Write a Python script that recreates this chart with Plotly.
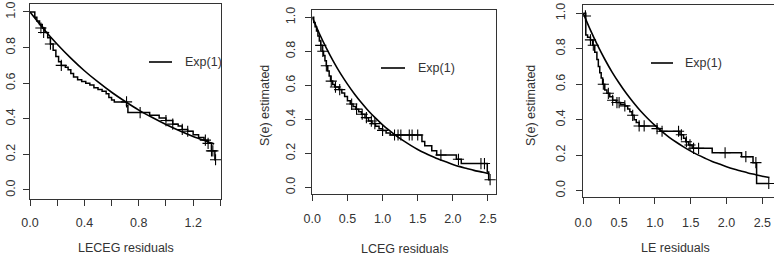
import plotly.graph_objects as go

W, H = 774, 257

# ---------------- data ----------------
# Panel 1: LECEG residuals
km1_t = [0, 0.035, 0.05, 0.07, 0.09, 0.11, 0.13, 0.15, 0.17, 0.19, 0.21, 0.23, 0.26, 0.28, 0.30, 0.32,
         0.35, 0.38, 0.41, 0.44, 0.47, 0.50, 0.53, 0.56, 0.58, 0.60, 0.62, 0.71, 0.72, 0.88, 0.95, 1.00,
         1.05, 1.09, 1.12, 1.16, 1.20, 1.24, 1.28, 1.31, 1.335, 1.36, 1.365]
km1_s = [1.0, 0.97, 0.95, 0.93, 0.91, 0.885, 0.855, 0.82, 0.785, 0.75, 0.72, 0.70, 0.69, 0.675, 0.655, 0.635,
         0.62, 0.61, 0.60, 0.59, 0.575, 0.565, 0.555, 0.54, 0.52, 0.505, 0.495, 0.475, 0.435, 0.42, 0.405, 0.39,
         0.37, 0.36, 0.34, 0.33, 0.31, 0.295, 0.28, 0.262, 0.22, 0.17, 0.17]
cen1_t = [0.08, 0.10, 0.15, 0.23, 0.71, 0.81, 1.00, 1.05, 1.12, 1.16, 1.29, 1.31, 1.335, 1.345, 1.365]
cen1_s = [0.91, 0.885, 0.82, 0.70, 0.495, 0.435, 0.39, 0.37, 0.34, 0.33, 0.28, 0.262, 0.22, 0.22, 0.17]
exp1_x = [0, 0.1, 0.2, 0.3, 0.4, 0.5, 0.6, 0.7, 0.8, 0.9, 1.0, 1.1, 1.2, 1.3, 1.355]
exp1_y = [1.000, 0.905, 0.819, 0.741, 0.670, 0.607, 0.549, 0.497, 0.449, 0.407, 0.368, 0.333, 0.301, 0.273, 0.258]

# Panel 2: LCEG residuals
km2_t = [0, 0.02, 0.04, 0.06, 0.08, 0.10, 0.12, 0.14, 0.16, 0.18, 0.20, 0.22, 0.24, 0.26, 0.29, 0.32,
         0.38, 0.42, 0.46, 0.50, 0.54, 0.58, 0.62, 0.66, 0.70, 0.75, 0.80, 0.85, 0.90, 0.95, 1.00,
         1.05, 1.11, 1.56, 1.60, 1.70, 1.77, 2.05, 2.12, 2.49, 2.51, 2.53]
km2_s = [1.0, 0.97, 0.945, 0.92, 0.89, 0.86, 0.835, 0.80, 0.775, 0.745, 0.715, 0.685, 0.655, 0.625, 0.605, 0.59,
         0.575, 0.555, 0.535, 0.51, 0.49, 0.475, 0.46, 0.445, 0.43, 0.41, 0.39, 0.375, 0.36, 0.345, 0.335,
         0.32, 0.308, 0.27, 0.245, 0.215, 0.19, 0.165, 0.14, 0.09, 0.045, 0.045]
cen2_t = [0.12, 0.15, 0.20, 0.27, 0.33, 0.39, 0.56, 0.63, 0.71, 0.77, 0.84, 0.89, 1.00, 1.17, 1.22, 1.26,
          1.38, 1.42, 1.50, 1.83, 2.08, 2.40, 2.45, 2.53]
cen2_s = [0.835, 0.80, 0.715, 0.625, 0.59, 0.575, 0.49, 0.46, 0.43, 0.41, 0.39, 0.375, 0.335, 0.308, 0.308, 0.308,
          0.308, 0.308, 0.308, 0.19, 0.165, 0.14, 0.14, 0.045]
exp2_x = [0, 0.1, 0.2, 0.3, 0.4, 0.5, 0.6, 0.7, 0.8, 0.9, 1.0, 1.1, 1.2, 1.3, 1.4, 1.5, 1.6, 1.7, 1.8,
          1.9, 2.0, 2.1, 2.2, 2.3, 2.4, 2.5, 2.52]
exp2_y = [1.000, 0.905, 0.819, 0.741, 0.670, 0.607, 0.549, 0.497, 0.449, 0.407, 0.368, 0.333, 0.301, 0.273,
          0.247, 0.223, 0.202, 0.183, 0.165, 0.150, 0.135, 0.122, 0.111, 0.100, 0.091, 0.082, 0.080]

# Panel 3: LE residuals
km3_t = [0, 0.035, 0.06, 0.10, 0.13, 0.16, 0.19, 0.21, 0.23, 0.25, 0.27, 0.30, 0.33, 0.37, 0.41, 0.46,
         0.52, 0.58, 0.62, 0.65, 0.68, 0.71, 0.74, 0.78, 1.03, 1.07, 1.35, 1.40, 1.43, 1.47, 1.52, 1.80,
         2.21, 2.37, 2.42, 2.59]
km3_s = [1.0, 0.878, 0.865, 0.85, 0.82, 0.78, 0.74, 0.70, 0.665, 0.635, 0.60, 0.568, 0.549, 0.53, 0.51, 0.497,
         0.488, 0.478, 0.46, 0.445, 0.425, 0.40, 0.385, 0.365, 0.35, 0.335, 0.315, 0.295, 0.276, 0.258, 0.239, 0.214,
         0.192, 0.158, 0.041, 0.041]
cen3_t = [0.03, 0.10, 0.14, 0.28, 0.35, 0.41, 0.47, 0.50, 0.58, 0.69, 0.78, 0.85, 1.03, 1.10, 1.33, 1.37,
          1.44, 1.49, 1.54, 1.61, 1.98, 2.27, 2.41, 2.59]
cen3_s = [0.985, 0.85, 0.82, 0.60, 0.549, 0.51, 0.497, 0.497, 0.478, 0.425, 0.365, 0.365, 0.35, 0.335, 0.335, 0.315,
          0.276, 0.258, 0.239, 0.239, 0.214, 0.192, 0.158, 0.041]
exp3_x = [0, 0.1, 0.2, 0.3, 0.4, 0.5, 0.6, 0.7, 0.8, 0.9, 1.0, 1.1, 1.2, 1.3, 1.4, 1.5, 1.6, 1.7, 1.8,
          1.9, 2.0, 2.1, 2.2, 2.3, 2.4, 2.5, 2.6]
exp3_y = [1.000, 0.905, 0.819, 0.741, 0.670, 0.607, 0.549, 0.497, 0.449, 0.407, 0.368, 0.333, 0.301, 0.273,
          0.247, 0.223, 0.202, 0.183, 0.165, 0.150, 0.135, 0.122, 0.111, 0.100, 0.091, 0.082, 0.074]

x_titles = ["LECEG residuals", "LCEG residuals", "LE residuals"]
y_title = "S(e) estimated"
legend_label = "Exp(1)"
x_tickvals = [[0, 0.2, 0.4, 0.6, 0.8, 1.0, 1.2, 1.4],
              [0, 0.5, 1.0, 1.5, 2.0, 2.5],
              [0, 0.5, 1.0, 1.5, 2.0, 2.5]]
x_ticktext = [["0.0", "", "0.4", "", "0.8", "", "1.2", ""],
              ["0.0", "0.5", "1.0", "1.5", "2.0", "2.5"],
              ["0.0", "0.5", "1.0", "1.5", "2.0", "2.5"]]
y_tickvals = [0, 0.2, 0.4, 0.6, 0.8, 1.0]
y_ticktext = ["0.0", "0.2", "0.4", "0.6", "0.8", "1.0"]

# ---------------- layout geometry (pixels) ----------------
FONT = "Liberation Sans, Arial, Helvetica, sans-serif"
TXT = "#333333"
AX = "#333333"
FS = 12.5

panels = [
    dict(box=(29.5, 221.0, 4.0, 199.0), xr=[-0.004, 1.405], yr=[-0.0506, 1.0449], mirror_y=True,
         xstand=6, ystand=3, legend=(149, 172, 62, 183), ytitle=None, xtitle=(126, 248)),
    dict(box=(312.3, 496.0, 10.0, 194.0), xr=[0, 2.614], yr=[-0.039, 1.043], mirror_y=True,
         xstand=7, ystand=5, legend=(381, 405, 68, 416), ytitle=(265, 106), xtitle=(405, 249)),
    dict(box=(583.0, 774.0, 5.0, 197.0), xr=[-0.004, 2.663], yr=[-0.0355, 1.0468], mirror_y=False,
         xstand=8, ystand=6, legend=(651, 673, 63, 683), ytitle=(531, 106), xtitle=(675, 248)),
]

series = [
    (km1_t, km1_s, cen1_t, cen1_s, exp1_x, exp1_y),
    (km2_t, km2_s, cen2_t, cen2_s, exp2_x, exp2_y),
    (km3_t, km3_s, cen3_t, cen3_s, exp3_x, exp3_y),
]

fig = go.Figure()
layout = dict(template="none", width=W, height=H, margin=dict(l=0, r=0, t=0, b=0, pad=0),
              paper_bgcolor="white", plot_bgcolor="white", showlegend=False,
              font=dict(family=FONT, size=FS, color=TXT))
shapes, annotations = [], []

for i, (p, (kt, ks, ct, cs, ex, ey)) in enumerate(zip(panels, series)):
    n = "" if i == 0 else str(i + 1)
    xa, ya = "x" + n, "y" + n
    fig.add_trace(go.Scatter(x=kt, y=ks, xaxis=xa, yaxis=ya, mode="lines",
                             line=dict(shape="hv", color="black", width=1.5)))
    fig.add_trace(go.Scatter(x=ex, y=ey, xaxis=xa, yaxis=ya, mode="lines",
                             line=dict(shape="spline", smoothing=0.8, color="black", width=1.6)))
    fig.add_trace(go.Scatter(x=ct, y=cs, xaxis=xa, yaxis=ya, mode="markers",
                             marker=dict(symbol="cross-thin", size=8, color="black",
                                         line=dict(width=1.1, color="black"))))
    x0, x1, y0, y1 = p["box"]
    axis_common = dict(showgrid=False, zeroline=False, showline=True, linecolor=AX, linewidth=1,
                       ticks="outside", ticklen=6, tickwidth=1, tickcolor=AX, automargin=False,
                       tickfont=dict(family=FONT, size=FS, color=TXT))
    layout["xaxis" + n] = dict(axis_common, domain=[x0 / W, x1 / W], range=p["xr"], anchor=ya,
                               tickmode="array", tickvals=x_tickvals[i], ticktext=x_ticktext[i],
                               mirror=True, ticklabelstandoff=p["xstand"])
    layout["yaxis" + n] = dict(axis_common, domain=[1 - y1 / H, 1 - y0 / H], range=p["yr"], anchor=xa,
                               tickmode="array", tickvals=y_tickvals, ticktext=y_ticktext,
                               tickangle=-90, mirror=p["mirror_y"], ticklabelstandoff=p["ystand"])
    lx0, lx1, ly, tx = p["legend"]
    shapes.append(dict(type="line", xref="paper", yref="paper", x0=lx0 / W, x1=lx1 / W,
                       y0=1 - ly / H, y1=1 - ly / H, line=dict(color="black", width=1.6)))
    annotations.append(dict(text=legend_label, xref="paper", yref="paper", x=tx / W, y=1 - ly / H,
                            xanchor="left", yanchor="middle", showarrow=False,
                            font=dict(family=FONT, size=FS, color=TXT)))
    cx, cy = p["xtitle"]
    annotations.append(dict(text=x_titles[i], xref="paper", yref="paper", x=cx / W, y=1 - cy / H,
                            xanchor="center", yanchor="middle", showarrow=False,
                            font=dict(family=FONT, size=FS, color=TXT)))
    if p["ytitle"] is not None:
        yx, yy = p["ytitle"]
        annotations.append(dict(text=y_title, xref="paper", yref="paper", x=yx / W, y=1 - yy / H,
                                xanchor="center", yanchor="middle", showarrow=False, textangle=-90,
                                font=dict(family=FONT, size=FS, color=TXT)))

layout["shapes"] = shapes
layout["annotations"] = annotations
fig.update_layout(**layout)
fig.write_html("out.html")
